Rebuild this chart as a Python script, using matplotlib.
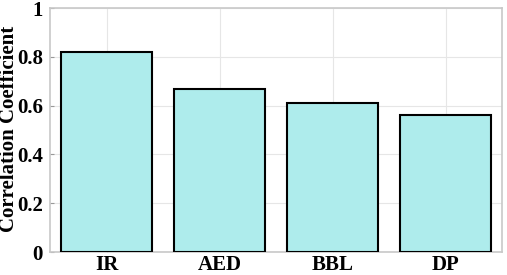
import matplotlib
matplotlib.use('Agg')
import matplotlib.pyplot as plt
import numpy as np

# data
labels = ['IR', 'AED', 'BBL', 'DP']
values = [0.82, 0.67, 0.61, 0.56]
yticks = [0, 0.2, 0.4, 0.6, 0.8, 1]
ytick_labels = ['0', '0.2', '0.4', '0.6', '0.8', '1']

plt.rcParams['font.family'] = ['Liberation Serif', 'DejaVu Serif']
plt.rcParams['font.weight'] = 'bold'

fig = plt.figure(figsize=(5.07, 2.75), dpi=100)
ax = fig.add_axes([50 / 507, 23 / 275, 452 / 507, 244 / 275])

x = np.arange(1, len(labels) + 1)
ax.bar(x, values, width=0.8, color='#aeecec', edgecolor='black', linewidth=1.5, zorder=3)

ax.set_xlim(0.5, 4.5)
ax.set_ylim(0, 1)
ax.set_xticks(x)
ax.set_xticklabels(labels, fontsize=15, fontweight='bold')
ax.set_yticks(yticks)
ax.set_yticklabels(ytick_labels, fontsize=15, fontweight='bold')
fig.text(9 / 507, 146 / 275, 'Correlation Coefficient', rotation=90,
         ha='center', va='center', fontsize=15, fontweight='bold')

ax.grid(True, color='#e6e6e6', linewidth=0.8, zorder=0)
ax.tick_params(direction='in', length=3, color='#999999', pad=5)
ax.tick_params(axis='x', pad=2.5)
for s in ax.spines.values():
    s.set_color('#c8c8c8')
    s.set_linewidth(1.2)

fig.savefig('out.png', dpi=100)
